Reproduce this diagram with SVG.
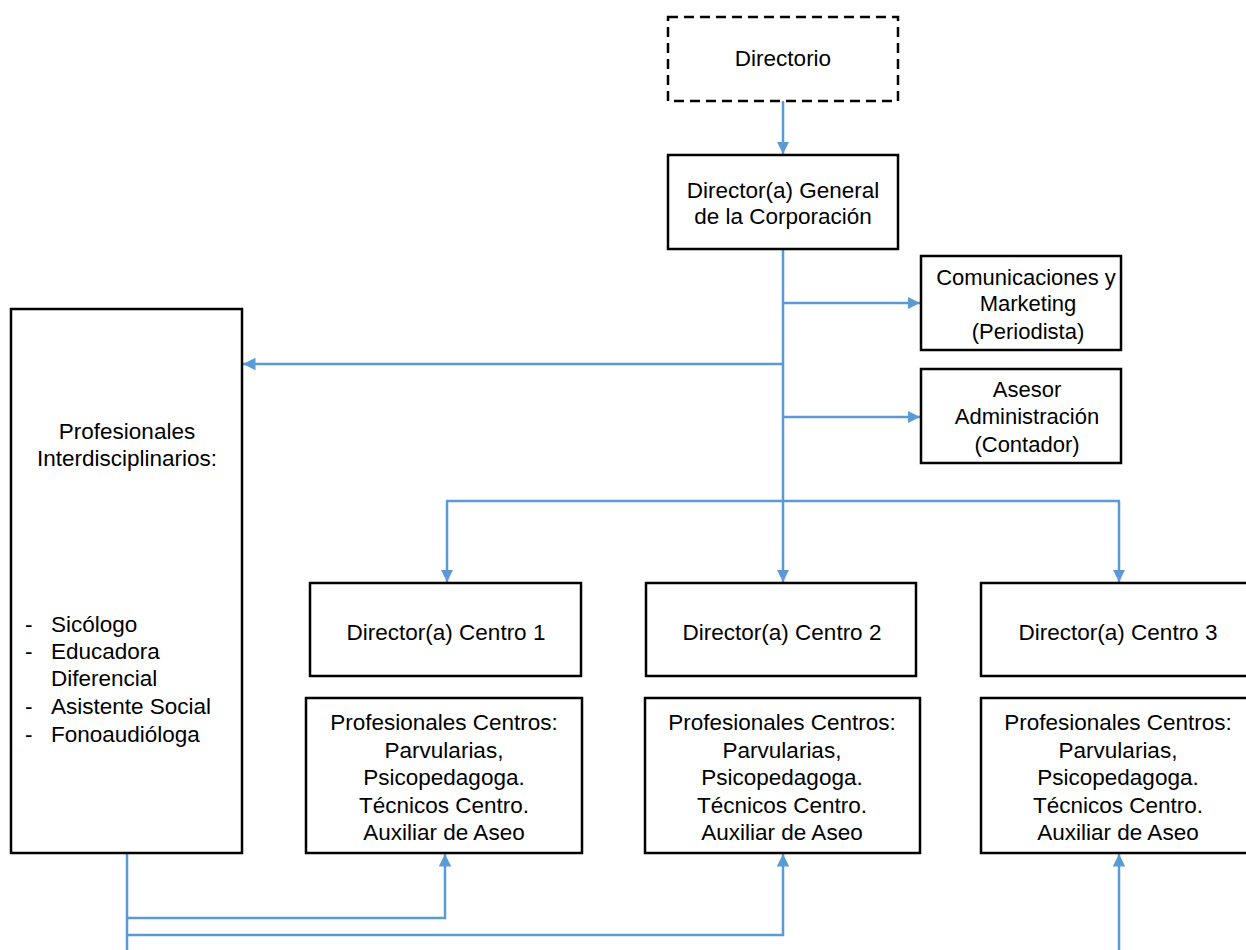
<svg xmlns="http://www.w3.org/2000/svg" width="1246" height="950" viewBox="0 0 1246 950">
<style>
.box{fill:#fff;stroke:#000;stroke-width:2.5}
.dash{fill:#fff;stroke:#000;stroke-width:2.5;stroke-dasharray:10 6}
.t{font-family:"Liberation Sans",Arial,sans-serif;font-size:22.5px;fill:#000;text-anchor:middle}
.s{font-size:22px}
.l{font-family:"Liberation Sans",Arial,sans-serif;font-size:22.5px;fill:#000}
.c{fill:none;stroke:#5B9BD5;stroke-width:2.5}
</style>
<defs>
<marker id="a" viewBox="0 0 10 10" refX="10" refY="5" markerWidth="5" markerHeight="5" orient="auto" markerUnits="strokeWidth">
<path d="M0,0 L10,5 L0,10 z" fill="#5B9BD5"/>
</marker>
</defs>
<g id="connectors">
<line class="c" x1="783" y1="101" x2="783" y2="154" marker-end="url(#a)"/>
<line class="c" x1="783" y1="249" x2="783" y2="582" marker-end="url(#a)"/>
<line class="c" x1="783" y1="303" x2="920" y2="303" marker-end="url(#a)"/>
<line class="c" x1="783" y1="417" x2="920" y2="417" marker-end="url(#a)"/>
<line class="c" x1="783" y1="364" x2="243" y2="364" marker-end="url(#a)"/>
<polyline class="c" points="447,501 447,582" marker-end="url(#a)"/>
<line class="c" x1="446" y1="501" x2="1120" y2="501"/>
<polyline class="c" points="1119,501 1119,582" marker-end="url(#a)"/>
<line class="c" x1="127" y1="853" x2="127" y2="950"/>
<polyline class="c" points="127,918 445,918 445,854" marker-end="url(#a)"/>
<polyline class="c" points="127,935 783,935 783,854" marker-end="url(#a)"/>
<line class="c" x1="1119" y1="950" x2="1119" y2="854" marker-end="url(#a)"/>
</g>
<g id="directorio">
<rect class="dash" x="668" y="17" width="230" height="84"/>
<text class="t" x="783" y="66">Directorio</text>
</g>
<g id="director-general">
<rect class="box" x="668" y="155" width="230" height="94"/>
<text class="t" x="783" y="198">Director(a) General</text>
<text class="t" x="783" y="224">de la Corporación</text>
</g>
<g id="comunicaciones">
<rect class="box" x="921" y="256" width="200" height="94"/>
<text class="t s" x="1026" y="285">Comunicaciones y</text>
<text class="t s" x="1028" y="311">Marketing</text>
<text class="t s" x="1028" y="339">(Periodista)</text>
</g>
<g id="asesor">
<rect class="box" x="921" y="369" width="200" height="94"/>
<text class="t s" x="1027" y="397">Asesor</text>
<text class="t s" x="1027" y="424">Administración</text>
<text class="t s" x="1027" y="452">(Contador)</text>
</g>
<g id="profesionales-interdisciplinarios">
<rect class="box" x="11" y="309" width="231" height="544"/>
<text class="t" x="127" y="439">Profesionales</text>
<text class="t" x="127" y="466">Interdisciplinarios:</text>
<text class="l" x="25" y="632">-</text><text class="l" x="51" y="632">Sicólogo</text>
<text class="l" x="25" y="659">-</text><text class="l" x="51" y="659">Educadora</text>
<text class="l" x="51" y="686">Diferencial</text>
<text class="l" x="25" y="714">-</text><text class="l" x="51" y="714">Asistente Social</text>
<text class="l" x="25" y="742">-</text><text class="l" x="51" y="742">Fonoaudióloga</text>
</g>
<g id="director-centro-1">
<rect class="box" x="310" y="583" width="271" height="93"/>
<text class="t" x="446" y="640">Director(a) Centro 1</text>
</g>
<g id="director-centro-2">
<rect class="box" x="646" y="583" width="270" height="93"/>
<text class="t" x="782" y="640">Director(a) Centro 2</text>
</g>
<g id="director-centro-3">
<rect class="box" x="981" y="583" width="280" height="93"/>
<text class="t" x="1118" y="640">Director(a) Centro 3</text>
</g>
<g id="profesionales-centro-1">
<rect class="box" x="306" y="698" width="276" height="155"/>
<text class="t" x="444" y="730">Profesionales Centros:</text>
<text class="t" x="444" y="758">Parvularias,</text>
<text class="t" x="444" y="785">Psicopedagoga.</text>
<text class="t" x="444" y="813">Técnicos Centro.</text>
<text class="t" x="444" y="840">Auxiliar de Aseo</text>
</g>
<g id="profesionales-centro-2">
<rect class="box" x="645" y="698" width="275" height="155"/>
<text class="t" x="782" y="730">Profesionales Centros:</text>
<text class="t" x="782" y="758">Parvularias,</text>
<text class="t" x="782" y="785">Psicopedagoga.</text>
<text class="t" x="782" y="813">Técnicos Centro.</text>
<text class="t" x="782" y="840">Auxiliar de Aseo</text>
</g>
<g id="profesionales-centro-3">
<rect class="box" x="981" y="698" width="280" height="155"/>
<text class="t" x="1118" y="730">Profesionales Centros:</text>
<text class="t" x="1118" y="758">Parvularias,</text>
<text class="t" x="1118" y="785">Psicopedagoga.</text>
<text class="t" x="1118" y="813">Técnicos Centro.</text>
<text class="t" x="1118" y="840">Auxiliar de Aseo</text>
</g>
</svg>
